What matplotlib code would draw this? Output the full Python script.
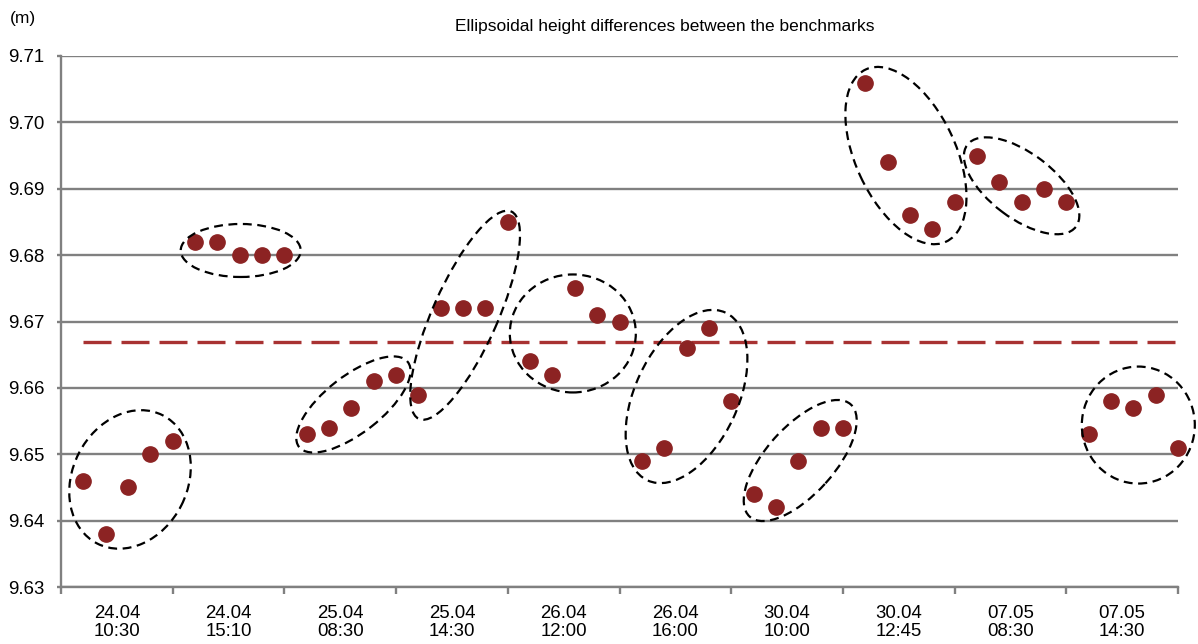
import numpy as np
import matplotlib
matplotlib.use("Agg")
import matplotlib.pyplot as plt
from matplotlib.patches import Ellipse
from matplotlib.transforms import Affine2D, ScaledTranslation

plt.rcParams['font.family'] = ['Liberation Sans', 'DejaVu Sans']

# observation sessions (x axis categories)
sessions = ["24.04\n10:30", "24.04\n15:10", "25.04\n08:30", "25.04\n14:30", "26.04\n12:00",
            "26.04\n16:00", "30.04\n10:00", "30.04\n12:45", "07.05\n08:30", "07.05\n14:30"]

# ellipsoidal height differences (m), 5 per session
h_2404_1030 = [9.646, 9.638, 9.645, 9.650, 9.652]
h_2404_1510 = [9.682, 9.682, 9.680, 9.680, 9.680]
h_2504_0830 = [9.653, 9.654, 9.657, 9.661, 9.662]
h_2504_1430 = [9.659, 9.672, 9.672, 9.672, 9.685]
h_2604_1200 = [9.664, 9.662, 9.675, 9.671, 9.670]
h_2604_1600 = [9.649, 9.651, 9.666, 9.669, 9.658]
h_3004_1000 = [9.644, 9.642, 9.649, 9.654, 9.654]
h_3004_1245 = [9.706, 9.694, 9.686, 9.684, 9.688]
h_0705_0830 = [9.695, 9.691, 9.688, 9.690, 9.688]
h_0705_1430 = [9.653, 9.658, 9.657, 9.659, 9.651]

groups = [h_2404_1030, h_2404_1510, h_2504_0830, h_2504_1430, h_2604_1200,
          h_2604_1600, h_3004_1000, h_3004_1245, h_0705_0830, h_0705_1430]

yticks = [9.63, 9.64, 9.65, 9.66, 9.67, 9.68, 9.69, 9.70, 9.71]

# hand drawn ellipses: pixel offset from group centre, width, height, angle
ell = [(2, 8, 144, 115, 63), (1, -2, 120, 53, 0), (2, 0, 138, 57, 38),
       (2, -7, 227, 65, 66), (-2, -2, 126, 118, 0), (0, -2, 185, 103, 65),
       (2, 7, 151, 68, 48), (-4, 0, 190, 100, -65), (0, -7, 136, 65, -37),
       (5, -4, 113, 117, 0)]

n = len(groups[0])
y = np.concatenate(groups)
x = np.arange(1, len(y) + 1)

fig = plt.figure(figsize=(11.98, 6.44), dpi=100)
ax = fig.add_axes([61/1198, 1-587/644, (1178-61)/1198, (587-56)/644])
ax.set_xlim(0, len(y))
ax.set_ylim(yticks[0], yticks[-1])

grey = '#808080'
for v in yticks:
    ax.axhline(v, color=grey, lw=1.7, zorder=1)

ax.plot([x[0], x[-1]], [y.mean(), y.mean()], color='#a83232', lw=2.4,
        dashes=(8.4, 3.0), zorder=2)

ax.plot(x, y, 'o', color='#8c2323', ms=11, mec='#8c2323', clip_on=False, zorder=3)

for k, g in enumerate(groups):
    gx = x[k*n:(k+1)*n]
    cx = (gx.min() + gx.max()) / 2
    cy = (min(g) + max(g)) / 2
    dx, dy, w, hgt, ang = ell[k]
    tr = Affine2D().translate(dx, dy) + ScaledTranslation(cx, cy, ax.transData)
    e = Ellipse((0, 0), w, hgt, angle=ang, fill=False, ec='black', lw=1.6,
                ls=(0, (4, 2.5)), transform=tr, clip_on=False, zorder=4)
    ax.add_patch(e)

for s in ['top', 'right']:
    ax.spines[s].set_visible(False)
for s in ['left', 'bottom']:
    ax.spines[s].set_color(grey)
    ax.spines[s].set_linewidth(1.7)

ax.set_yticks(yticks)
ax.set_yticklabels([f"{v:.2f}" for v in yticks])
ax.tick_params(axis='y', direction='out', length=3, width=1.7, color=grey,
               pad=9, labelsize=13.4)

ax.set_xticks(np.arange(0, len(y) + 1, n))
ax.set_xticklabels([])
ax.set_xticks(np.arange(n/2, len(y), n), minor=True)
ax.set_xticklabels(sessions, minor=True, linespacing=1.1)
ax.tick_params(axis='x', which='major', direction='out', length=5, width=1.7, color=grey)
ax.tick_params(axis='x', which='minor', length=0, pad=13, labelsize=13.4)

fig.text(665/1198, 1-27/644, "Ellipsoidal height differences between the benchmarks",
         ha='center', va='center', fontsize=12.5)
fig.text(10/1198, 1-18/644, "(m)", ha='left', va='center', fontsize=12.5)

fig.savefig("out.png", dpi=100)
